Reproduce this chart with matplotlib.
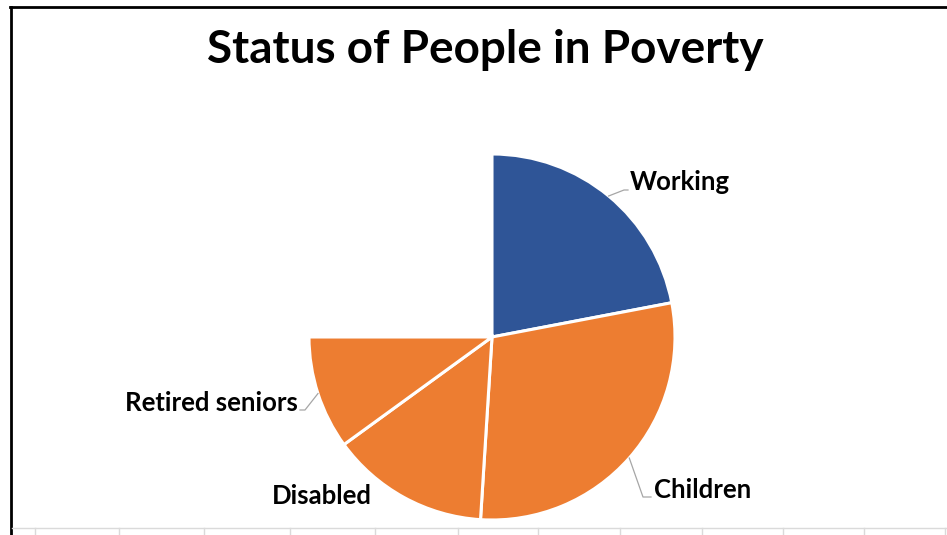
import numpy as np
import matplotlib.pyplot as plt
from matplotlib.lines import Line2D

# data
labels = ['Working', 'Children', 'Disabled', 'Retired seniors']
values = [22, 29, 14, 10]
hidden = 25  # invisible slice that leaves the upper-left quarter empty
colors = ['#2F5597', '#ED7D31', '#ED7D31', '#ED7D31']

W, H = 947, 535
fig = plt.figure(figsize=(W / 100, H / 100), dpi=100)
ax = fig.add_axes([0, 0, 1, 1])


def Y(y):
    # picture rows (top = 0) to axes units
    return H - y


cx, cy, r = 492, Y(337), 183
wedges, _ = ax.pie(values + [hidden], colors=colors + ['none'],
                   startangle=90, counterclock=False,
                   center=(cx, cy), radius=r, frame=True,
                   wedgeprops=dict(edgecolor='white', linewidth=2.2))
wedges[-1].set_edgecolor('none')
ax.set_xlim(0, W)
ax.set_ylim(0, H)
ax.set_aspect('equal')
ax.axis('off')

font = 'Lato'
ax.text(485, Y(50), 'Status of People in Poverty', ha='center', va='center',
        fontsize=33, fontweight='bold', family=font, color='black')


def mid_point(w):
    a = np.deg2rad((w.theta1 + w.theta2) / 2)
    return cx + r * np.cos(a), cy + r * np.sin(a)


# label text positions and leader line bends (picture coords)
lbl = {
    'Working': ((630, 182), 'left', [(624, 190), (628, 190)]),
    'Children': ((654, 490), 'left', [(643, 497), (651, 497)]),
    'Disabled': ((372, 496), 'right', None),
    'Retired seniors': ((298, 403), 'right', [(305, 410), (300, 410)]),
}
for w, name in zip(wedges, labels):
    (tx, ty), ha, bends = lbl[name]
    ax.text(tx, Y(ty), name, ha=ha, va='center', fontsize=18.5,
            fontweight='bold', family=font, color='black')
    if bends:
        x0, y0 = mid_point(w)
        xs = [x0] + [b[0] for b in bends]
        ys = [y0] + [Y(b[1]) for b in bends]
        ax.plot(xs, ys, color='#a6a6a6', lw=0.9)

# chart frame (top and left edges visible)
fig.add_artist(Line2D([10 / W, 1], [1 - 7 / H, 1 - 7 / H], color='black', lw=2))
fig.add_artist(Line2D([11 / W, 11 / W], [0, 1 - 7 / H], color='black', lw=2))

# spreadsheet cells peeking in below the chart
gy = 1 - 528 / H
fig.add_artist(Line2D([12 / W, 1], [gy, gy], color='#dadada', lw=1))
for gx in [35, 119, 204, 290, 375, 458, 538, 620, 702, 783, 864, 945]:
    fig.add_artist(Line2D([gx / W, gx / W], [0, gy], color='#dadada', lw=1))

fig.savefig('out.png', dpi=100, facecolor='white')
